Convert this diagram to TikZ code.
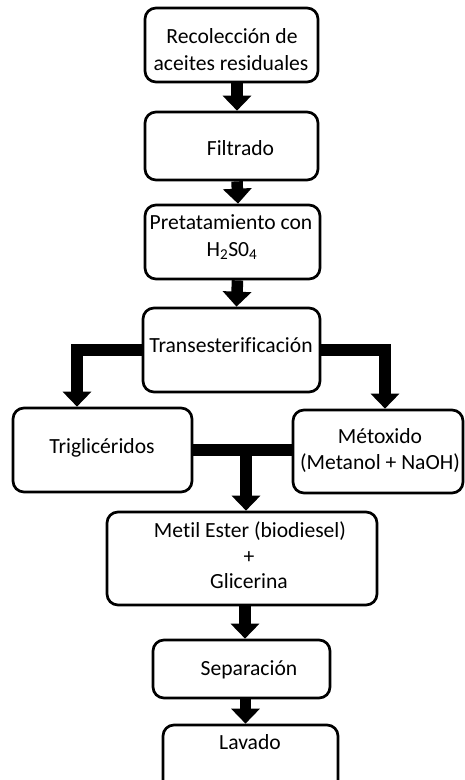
\documentclass[tikz,border=0pt]{standalone}
\usepackage{fontspec}
\setmainfont{Carlito}[Ligatures={NoCommon}]
\usetikzlibrary{arrows.meta}
\begin{document}
\begin{tikzpicture}[x=1pt,y=-1pt,
  box/.style={draw, line width=2.7pt, rounded corners=11pt, inner sep=0pt},
  lbl/.style={anchor=base, inner sep=0pt, font=\fontsize{21.6}{26}\selectfont},
  blk/.style={line width=11.5pt, line join=miter, -{Triangle[width=28pt,length=15pt]}},
  bar/.style={line width=12.5pt}]
\useasboundingbox (0,0) rectangle (465,780);
\clip (0,0) rectangle (465,780);
% boxes
\node[box, minimum width=173pt, minimum height=74pt] (b1) at (231.5,45) {};
\node[box, minimum width=173pt, minimum height=68pt] (b2) at (231.5,146) {};
\node[box, minimum width=175pt, minimum height=74pt] (b3) at (232.5,242) {};
\node[box, minimum width=177pt, minimum height=84pt] (b4) at (231.5,350) {};
\node[box, minimum width=179pt, minimum height=84pt] (trig) at (102.5,450) {};
\node[box, minimum width=170pt, minimum height=83pt] (meto) at (378,451.5) {};
\node[box, minimum width=270pt, minimum height=93pt] (metil) at (242,558.5) {};
\node[box, minimum width=177pt, minimum height=58pt] (sep) at (241.5,669) {};
\node[box, minimum width=175pt, minimum height=75pt] (lav) at (250.5,762.5) {};
% arrows
\draw[blk] ([xshift=5.5pt]b1.south) -- ([xshift=5.5pt]b2.north);
\draw[blk] ([xshift=5.5pt]b2.south) -- ([xshift=5.5pt]b3.north);
\draw[blk] ([xshift=5pt]b3.south) -- ([xshift=5pt]b4.north);
\draw[blk] (b4.west) -| ([xshift=-25.5pt]trig.north);
\draw[blk] (b4.east) -| ([xshift=7pt]meto.north);
\draw[bar] (trig.east) -- (trig.east -| meto.west);
\coordinate (m) at (246,450);
\draw[blk] (m) -- (m |- metil.north);
\draw[blk] ([xshift=3pt]metil.south) -- ([xshift=3pt]metil.south |- sep.north);
\draw[blk] ([xshift=4pt]sep.south) -- ([xshift=4pt]sep.south |- lav.north);
% labels
\node[lbl] (t1a) at (232,43) {Recolección de};
\node[lbl] (t1b) at (231,70) {aceites residuales};
\node[lbl] (t2) at (240.5,155) {Filtrado};
\node[lbl] (t3a) at (231,229) {Pretatamiento con};
\node[lbl] (t3b) at (232,256) {H\textsubscript{2}S0\textsubscript{4}};
\node[lbl] (t4) at (231,352) {Transesterificación};
\node[lbl] (t5) at (102,453) {Triglicéridos};
\node[lbl] (t6a) at (380,443) {Métoxido};
\node[lbl] (t6b) at (380,469) {(Metanol + NaOH)};
\node[lbl] (t7a) at (250,537) {Metil Ester (biodiesel)};
\node[lbl] (t7b) at (249,563) {+};
\node[lbl] (t7c) at (249,588) {Glicerina};
\node[lbl] (t8) at (249,675) {Separación};
\node[lbl] (t9) at (250,749) {Lavado};
\end{tikzpicture}
\end{document}
